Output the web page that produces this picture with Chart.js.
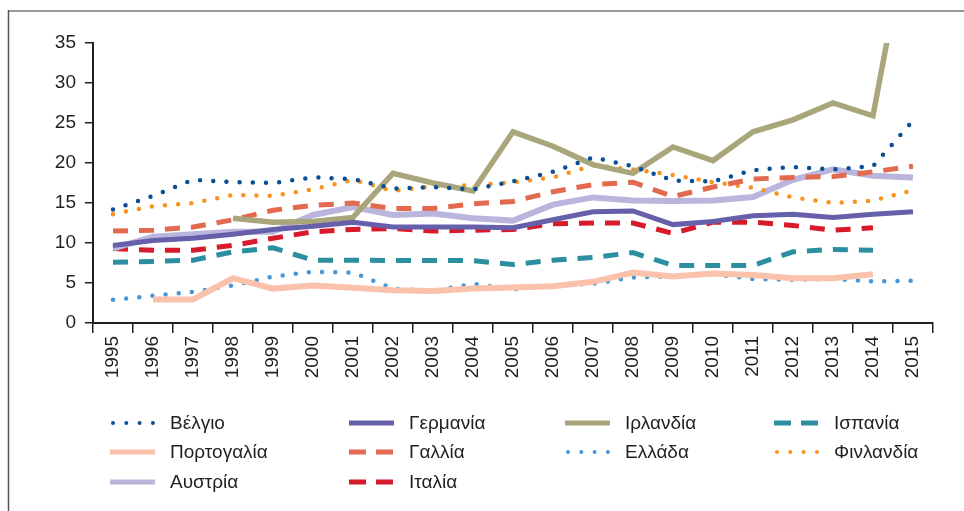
<!DOCTYPE html>
<html>
<head>
<meta charset="utf-8">
<script src="https://cdn.jsdelivr.net/npm/chart.js@4/dist/chart.umd.min.js"></script>
<style>
  html, body { margin: 0; padding: 0; background: #fff; }
  #wrap { position: relative; width: 964px; height: 511px; }
</style>
</head>
<body>
<div id="wrap"><canvas id="c" width="964" height="511"></canvas></div>
<script>
const years = ['1995','1996','1997','1998','1999','2000','2001','2002','2003','2004','2005','2006','2007','2008','2009','2010','2011','2012','2013','2014','2015'];
const yTicks = [0, 5, 10, 15, 20, 25, 30, 35];

const belgium  = [14.2,15.9,17.9,17.6,17.5,18.2,18.0,16.8,17.0,16.7,17.7,18.9,20.7,19.6,17.8,17.7,19.1,19.5,19.2,19.6,25.3];
const germany  = [9.7,10.3,10.6,11.1,11.7,12.1,12.6,12.0,12.0,12.0,11.9,12.9,13.9,14.0,12.3,12.7,13.4,13.6,13.2,13.6,13.9];
const ireland  = [null,null,null,13.1,12.6,12.7,13.2,18.7,17.5,16.5,23.9,22.1,19.8,18.7,22.0,20.3,23.9,25.4,27.5,25.9,52.5];
const spain    = [7.6,7.7,7.85,8.9,9.4,7.85,7.85,7.8,7.8,7.8,7.3,7.85,8.2,8.8,7.2,7.2,7.2,8.9,9.2,9.1,null];
const portugal = [null,2.95,2.95,5.6,4.3,4.7,4.4,4.1,4.0,4.3,4.45,4.6,5.15,6.3,5.8,6.2,6.0,5.6,5.6,6.1,null];
const france   = [11.5,11.6,12.0,12.9,14.1,14.7,15.0,14.3,14.3,14.9,15.2,16.4,17.3,17.6,15.8,17.0,18.0,18.2,18.3,18.9,19.6];
const greece   = [2.9,3.4,3.9,4.7,5.8,6.4,6.3,4.3,4.0,4.9,4.2,4.7,4.9,5.7,5.8,6.1,5.5,5.4,5.5,5.2,5.3];
const finland  = [13.6,14.6,15.0,16.0,15.9,16.7,17.9,16.5,17.1,17.2,17.6,18.2,19.7,19.2,18.5,17.6,16.9,15.7,15.0,15.3,16.6];
const austria  = [9.3,10.8,11.1,11.4,11.4,13.5,14.5,13.5,13.7,13.1,12.8,14.8,15.7,15.3,15.25,15.3,15.75,17.9,19.2,18.4,18.2];
const italy    = [9.3,9.1,9.1,9.7,10.6,11.4,11.7,11.8,11.5,11.6,11.7,12.4,12.5,12.5,11.2,12.6,12.6,12.2,11.6,11.9,null];

const seriesNames = ['Βέλγιο','Γερμανία','Ιρλανδία','Ισπανία','Πορτογαλία','Γαλλία','Ελλάδα','Φινλανδία','Αυστρία','Ιταλία'];
const seriesData = [belgium, germany, ireland, spain, portugal, france, greece, finland, austria, italy];

const DOT = 'dot', DASH = 'dash', SOLID = 'solid';
const styles = [
  {color:'#0a4f96', kind:DOT,   width:4.5},
  {color:'#6660ab', kind:SOLID, width:5},
  {color:'#a9a67b', kind:SOLID, width:5.5},
  {color:'#2b8fa0', kind:DASH,  width:5},
  {color:'#fac1ab', kind:SOLID, width:6},
  {color:'#e26a4f', kind:DASH,  width:5},
  {color:'#4796d8', kind:DOT,   width:4.5},
  {color:'#f7931e', kind:DOT,   width:4.5},
  {color:'#bab5dc', kind:SOLID, width:6},
  {color:'#d81b2a', kind:DASH,  width:5}
];

function dashFor(k){ return k===DOT ? [0, 13.2] : (k===DASH ? [15, 11] : []); }

const datasets = seriesNames.map((name, i) => ({
  label: name,
  data: seriesData[i],
  borderColor: styles[i].color,
  backgroundColor: styles[i].color,
  borderWidth: styles[i].width,
  borderDash: dashFor(styles[i].kind),
  borderCapStyle: styles[i].kind===DOT ? 'round' : 'butt',
  pointRadius: 0,
  pointHoverRadius: 0,
  tension: 0,
  fill: false,
  spanGaps: false
}));

const FONT = "'Liberation Sans', Arial, Helvetica, sans-serif";
const TXT = '#231f20';

const legendCols = [110, 349, 565, 774];
const legendRows = [423, 452, 482];

const customLegend = {
  id: 'customLegend',
  beforeDraw(chart) {
    const ctx = chart.ctx;
    ctx.save();
    ctx.fillStyle = '#fff';
    ctx.fillRect(0, 0, chart.width, chart.height);
    ctx.strokeStyle = '#999';
    ctx.lineWidth = 2;
    ctx.beginPath(); ctx.moveTo(8, 11); ctx.lineTo(964, 11); ctx.stroke();
    ctx.strokeStyle = '#555';
    ctx.lineWidth = 1.5;
    ctx.beginPath(); ctx.moveTo(8.5, 10); ctx.lineTo(8.5, 511); ctx.stroke();
    ctx.restore();
  },
  afterDraw(chart) {
    const ctx = chart.ctx;
    ctx.save();
    chart.data.datasets.forEach((ds, i) => {
      const col = i % 4, row = Math.floor(i / 4);
      const x0 = legendCols[col], y = legendRows[row];
      const st = styles[i];
      ctx.strokeStyle = ds.borderColor;
      ctx.lineWidth = st.kind === DOT ? 4 : 5;
      ctx.setLineDash(st.kind === DOT ? [0, 13.3] : (st.kind === DASH ? [17, 10] : []));
      ctx.lineCap = st.kind === DOT ? 'round' : 'butt';
      ctx.beginPath();
      if (st.kind === DOT) { ctx.moveTo(x0 + 3, y); ctx.lineTo(x0 + 44, y); }
      else { ctx.moveTo(x0, y); ctx.lineTo(x0 + 45, y); }
      ctx.stroke();
      ctx.setLineDash([]);
      ctx.fillStyle = TXT;
      ctx.font = "19px " + FONT;
      ctx.textBaseline = 'middle';
      ctx.textAlign = 'left';
      ctx.fillText(ds.label, x0 + 60, y + 1);
    });
    ctx.restore();
  }
};

new Chart(document.getElementById('c'), {
  type: 'line',
  data: { labels: years, datasets },
  options: {
    responsive: false,
    animation: false,
    devicePixelRatio: 1,
    layout: { padding: { left: 0, right: 31, top: 43, bottom: 0 } },
    plugins: { legend: { display: false }, tooltip: { enabled: false } },
    scales: {
      x: {
        type: 'category',
        offset: true,
        afterFit(s) { s.height = 188; },
        grid: { display: true, offset: true, drawOnChartArea: false, drawTicks: true, tickLength: 10, color: TXT, lineWidth: 1.5 },
        border: { display: true, color: TXT, width: 2 },
        ticks: { autoSkip: false, minRotation: 90, maxRotation: 90, padding: 3, color: TXT, font: { family: FONT, size: 19 } }
      },
      y: {
        min: 0, max: 35,
        afterFit(s) { s.width = 93; },
        afterBuildTicks(s) { s.ticks = yTicks.map(v => ({ value: v })); },
        grid: { display: true, drawOnChartArea: false, drawTicks: true, tickLength: 8, color: TXT, lineWidth: 1.5 },
        border: { display: true, color: TXT, width: 2 },
        ticks: { padding: 9, color: TXT, font: { family: FONT, size: 19 } }
      }
    }
  },
  plugins: [customLegend]
});
</script>
</body>
</html>
